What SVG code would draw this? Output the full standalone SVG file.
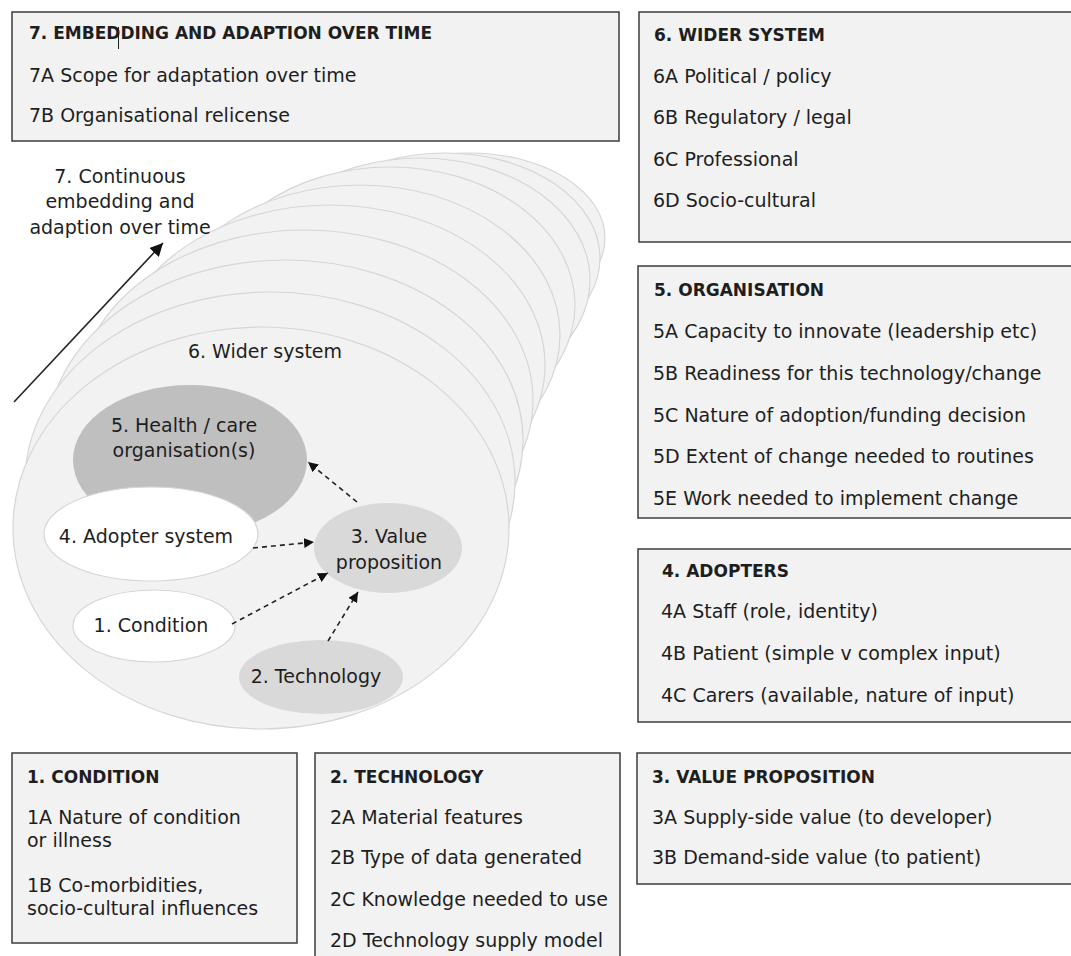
<svg xmlns="http://www.w3.org/2000/svg" width="1071" height="956" viewBox="0 0 1071 956">
  <defs>
    <style>
      text { font-family: "DejaVu Sans", Verdana, sans-serif; fill: #1e1e1e; }
      .item { font-size: 19px; }
      .title { font-size: 17px; font-weight: bold; }
      .lbl { font-size: 19px; text-anchor: middle; }
      .box { fill: #f2f2f2; stroke: #3c3c3c; stroke-width: 1.5; }
      .ring { fill: #f2f2f2; stroke: #d6d6d6; stroke-width: 1.2; }
      .dash { stroke: #222; stroke-width: 1.6; stroke-dasharray: 5 4; fill: none; }
    </style>
    <marker id="tip" viewBox="0 0 10 10" refX="10" refY="5" markerWidth="10" markerHeight="10" markerUnits="userSpaceOnUse" orient="auto">
      <path d="M0,0 L10,5 L0,10 z" fill="#111"/>
    </marker>
    <marker id="bigtip" viewBox="0 0 12 12" refX="12" refY="6" markerWidth="13" markerHeight="13" markerUnits="userSpaceOnUse" orient="auto">
      <path d="M0,0 L12,6 L0,12 z" fill="#111"/>
    </marker>
  </defs>

  <rect width="1071" height="956" fill="#ffffff"/>

  <!-- stack of system layers, drawn back to front -->
  <g id="layers">
    <ellipse class="ring" cx="470" cy="238" rx="135" ry="85"/>
    <ellipse class="ring" cx="445" cy="258" rx="155" ry="105"/>
    <ellipse class="ring" cx="420" cy="280" rx="170" ry="122"/>
    <ellipse class="ring" cx="390" cy="305" rx="185" ry="138"/>
    <ellipse class="ring" cx="360" cy="335" rx="200" ry="150"/>
    <ellipse class="ring" cx="330" cy="365" rx="215" ry="160"/>
    <ellipse class="ring" cx="305" cy="400" rx="228" ry="170"/>
    <ellipse class="ring" cx="285" cy="440" rx="238" ry="180"/>
    <ellipse class="ring" cx="270" cy="482" rx="245" ry="190"/>
    <ellipse class="ring" cx="261" cy="528" rx="248" ry="201"/>
  </g>

  <g id="wider-system-label">
    <text class="lbl" x="265" y="358">6. Wider system</text>
  </g>

  <g id="organisation-node">
    <ellipse cx="190" cy="460" rx="117" ry="75" fill="#bfbfbf"/>
    <text class="lbl" x="184" y="432">5. Health / care</text>
    <text class="lbl" x="184" y="457">organisation(s)</text>
  </g>

  <g id="adopter-node">
    <ellipse cx="151" cy="534" rx="107" ry="47" fill="#ffffff" stroke="#d6d6d6" stroke-width="1.2"/>
    <text class="lbl" x="146" y="543">4. Adopter system</text>
  </g>

  <g id="value-node">
    <ellipse cx="388" cy="548" rx="74" ry="45" fill="#d9d9d9"/>
    <text class="lbl" x="389" y="543">3. Value</text>
    <text class="lbl" x="389" y="569">proposition</text>
  </g>

  <g id="condition-node">
    <ellipse cx="154" cy="626" rx="81" ry="36" fill="#ffffff" stroke="#d6d6d6" stroke-width="1.2"/>
    <text class="lbl" x="151" y="632">1. Condition</text>
  </g>

  <g id="technology-node">
    <ellipse cx="321" cy="677" rx="82" ry="37" fill="#d9d9d9"/>
    <text class="lbl" x="316" y="683">2. Technology</text>
  </g>

  <g id="time-label">
    <text class="lbl" x="120" y="183">7. Continuous</text>
    <text class="lbl" x="120" y="208">embedding and</text>
    <text class="lbl" x="120" y="234">adaption over time</text>
  </g>

  <g id="connectors">
    <line class="dash" x1="357" y1="502" x2="308" y2="462" marker-end="url(#tip)"/>
    <line class="dash" x1="253" y1="548" x2="314" y2="542" marker-end="url(#tip)"/>
    <line class="dash" x1="232" y1="624" x2="328" y2="573" marker-end="url(#tip)"/>
    <line class="dash" x1="328" y1="641" x2="358" y2="592" marker-end="url(#tip)"/>
    <line x1="14" y1="402" x2="163" y2="243" stroke="#222" stroke-width="1.6" marker-end="url(#bigtip)"/>
  </g>

  <g id="box-7">
    <rect class="box" x="12" y="12" width="607" height="129"/>
    <text class="title" x="29" y="39">7. EMBEDDING AND ADAPTION OVER TIME</text>
    <line x1="118.5" y1="27" x2="118.5" y2="49" stroke="#222" stroke-width="1"/>
    <text class="item" x="29" y="82">7A Scope for adaptation over time</text>
    <text class="item" x="29" y="122">7B Organisational relicense</text>
  </g>

  <g id="box-6">
    <rect class="box" x="639" y="12" width="440" height="230"/>
    <text class="title" x="654" y="41">6. WIDER SYSTEM</text>
    <text class="item" x="653" y="83">6A Political / policy</text>
    <text class="item" x="653" y="124">6B Regulatory / legal</text>
    <text class="item" x="653" y="166">6C Professional</text>
    <text class="item" x="653" y="207">6D Socio-cultural</text>
  </g>

  <g id="box-5">
    <rect class="box" x="638" y="266" width="440" height="252"/>
    <text class="title" x="654" y="296">5. ORGANISATION</text>
    <text class="item" x="653" y="338">5A Capacity to innovate (leadership etc)</text>
    <text class="item" x="653" y="380">5B Readiness for this technology/change</text>
    <text class="item" x="653" y="422">5C Nature of adoption/funding decision</text>
    <text class="item" x="653" y="463">5D Extent of change needed to routines</text>
    <text class="item" x="653" y="505">5E Work needed to implement change</text>
  </g>

  <g id="box-4">
    <rect class="box" x="638" y="549" width="440" height="173"/>
    <text class="title" x="662" y="577">4. ADOPTERS</text>
    <text class="item" x="661" y="618">4A Staff (role, identity)</text>
    <text class="item" x="661" y="660">4B Patient (simple v complex input)</text>
    <text class="item" x="661" y="702">4C Carers (available, nature of input)</text>
  </g>

  <g id="box-1">
    <rect class="box" x="12" y="753" width="285" height="190"/>
    <text class="title" x="27" y="783">1. CONDITION</text>
    <text class="item" x="27" y="824">1A Nature of condition</text>
    <text class="item" x="27" y="847">or illness</text>
    <text class="item" x="27" y="892">1B Co-morbidities,</text>
    <text class="item" x="27" y="915">socio-cultural influences</text>
  </g>

  <g id="box-2">
    <rect class="box" x="315" y="753" width="305" height="215"/>
    <text class="title" x="330" y="783">2. TECHNOLOGY</text>
    <text class="item" x="330" y="824">2A Material features</text>
    <text class="item" x="330" y="864">2B Type of data generated</text>
    <text class="item" x="330" y="906">2C Knowledge needed to use</text>
    <text class="item" x="330" y="947">2D Technology supply model</text>
  </g>

  <g id="box-3">
    <rect class="box" x="637" y="753" width="440" height="131"/>
    <text class="title" x="652" y="783">3. VALUE PROPOSITION</text>
    <text class="item" x="652" y="824">3A Supply-side value (to developer)</text>
    <text class="item" x="652" y="864">3B Demand-side value (to patient)</text>
  </g>
</svg>
